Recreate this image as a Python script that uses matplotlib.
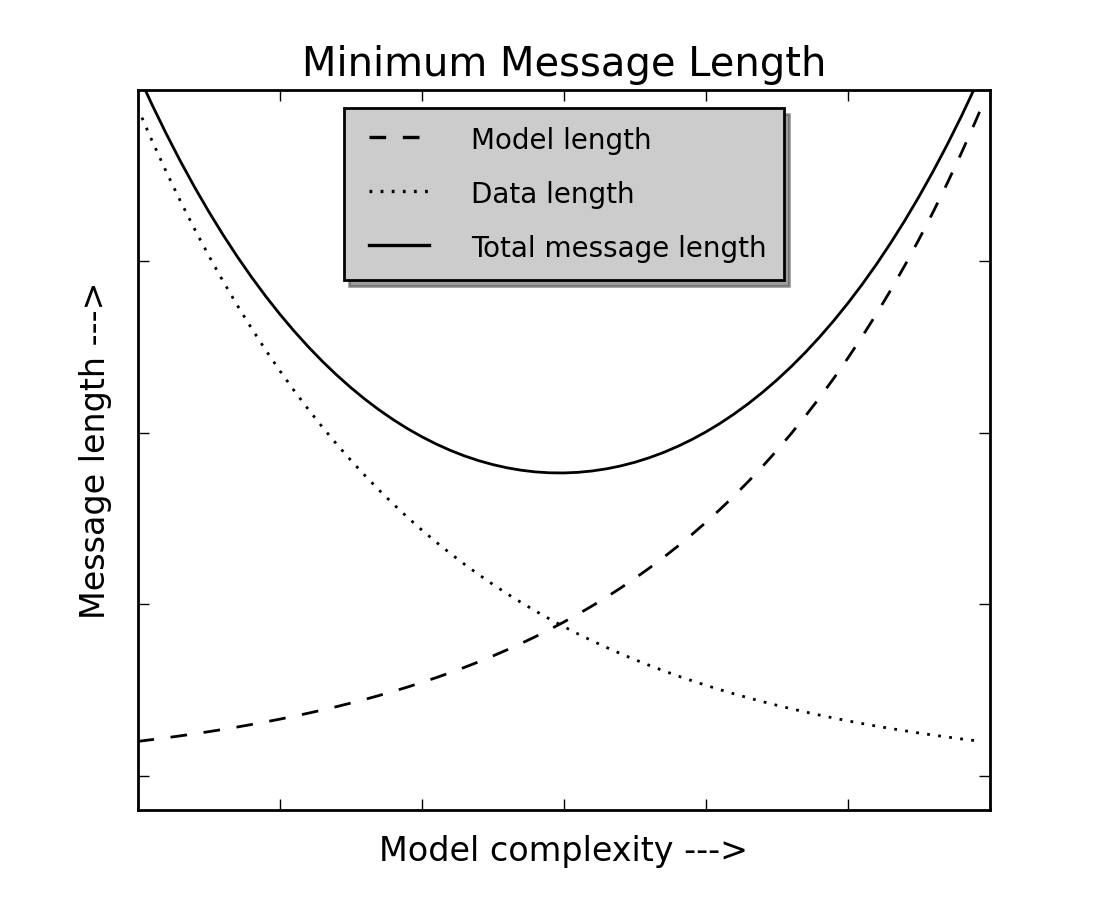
import matplotlib

matplotlib.use("Agg")
import matplotlib.pyplot as plt

# model complexity (arbitrary units) and message lengths
complexity = [0.00, 0.05, 0.10, 0.15, 0.20, 0.25, 0.30, 0.35, 0.40, 0.45,
              0.50, 0.55, 0.60, 0.65, 0.70, 0.75, 0.80, 0.85, 0.90, 0.95,
              1.00, 1.05, 1.10, 1.15, 1.20, 1.25, 1.30, 1.35, 1.40, 1.45,
              1.50, 1.55, 1.60, 1.65, 1.70, 1.75, 1.80, 1.85, 1.90, 1.95,
              2.00, 2.05, 2.10, 2.15, 2.20, 2.25, 2.30, 2.35, 2.40, 2.45,
              2.50, 2.55, 2.60, 2.65, 2.70, 2.75, 2.80, 2.85, 2.90, 2.95, 2.97]
model_len = [0.2000, 0.2103, 0.2210, 0.2324, 0.2443, 0.2568, 0.2700, 0.2838, 0.2984, 0.3137,
             0.3297, 0.3467, 0.3644, 0.3831, 0.4028, 0.4234, 0.4451, 0.4679, 0.4919, 0.5171,
             0.5437, 0.5715, 0.6008, 0.6316, 0.6640, 0.6981, 0.7339, 0.7715, 0.8110, 0.8526,
             0.8963, 0.9423, 0.9906, 1.0414, 1.0948, 1.1509, 1.2099, 1.2720, 1.3372, 1.4057,
             1.4778, 1.5536, 1.6332, 1.7170, 1.8050, 1.8975, 1.9948, 2.0971, 2.2046, 2.3177,
             2.4365, 2.5614, 2.6927, 2.8308, 2.9759, 3.1285, 3.2889, 3.4576, 3.6348, 3.8212, 3.8984]
data_len = [3.8984, 3.7082, 3.5275, 3.3553, 3.1917, 3.0360, 2.8880, 2.7471, 2.6132, 2.4857,
            2.3645, 2.2491, 2.1395, 2.0351, 1.9359, 1.8415, 1.7517, 1.6662, 1.5850, 1.5077,
            1.4341, 1.3642, 1.2977, 1.2343, 1.1742, 1.1169, 1.0624, 1.0106, 0.9613, 0.9144,
            0.8698, 0.8274, 0.7871, 0.7487, 0.7122, 0.6774, 0.6444, 0.6129, 0.5830, 0.5547,
            0.5275, 0.5018, 0.4774, 0.4541, 0.4320, 0.4109, 0.3908, 0.3718, 0.3537, 0.3364,
            0.3200, 0.3044, 0.2895, 0.2755, 0.2620, 0.2492, 0.2371, 0.2255, 0.2145, 0.2040, 0.2000]
total_len = [4.0984, 3.9185, 3.7485, 3.5877, 3.4360, 3.2928, 3.1580, 3.0309, 2.9116, 2.7994,
             2.6942, 2.5958, 2.5039, 2.4182, 2.3387, 2.2649, 2.1968, 2.1341, 2.0769, 2.0248,
             1.9778, 1.9357, 1.8985, 1.8659, 1.8382, 1.8150, 1.7963, 1.7821, 1.7723, 1.7670,
             1.7661, 1.7697, 1.7777, 1.7901, 1.8070, 1.8283, 1.8543, 1.8849, 1.9202, 1.9604,
             2.0053, 2.0554, 2.1106, 2.1711, 2.2370, 2.3084, 2.3856, 2.4689, 2.5583, 2.6541,
             2.7565, 2.8658, 2.9822, 3.1063, 3.2379, 3.3777, 3.5260, 3.6831, 3.8493, 4.0252, 4.0984]

plt.style.use("classic")

fig = plt.figure(figsize=(5.5, 4.5), dpi=200)
ax = fig.add_subplot(111)

ax.plot(complexity, model_len, "k--", lw=1.0, label="Model length")
ax.plot(complexity, data_len, "k:", lw=1.0, label="Data length")
ax.plot(complexity, total_len, "k-", lw=1.0, label="Total message length")

ax.set_xlim(0, 3)
ax.set_ylim(-0.2, 4)
ax.set_xticks([0, 0.5, 1.0, 1.5, 2.0, 2.5, 3.0])
ax.set_yticks([0, 1, 2, 3, 4])
ax.set_xticklabels([])
ax.set_yticklabels([])

ax.set_title("Minimum Message Length", fontsize=14.4)
ax.set_xlabel("Model complexity --->", fontsize=12)
ax.set_ylabel("Message length --->", fontsize=12)

leg = ax.legend(loc="upper center", shadow=True, fontsize=10,
                handlelength=2.76, handletextpad=1.2, handleheight=1.27,
                labelspacing=0.85, borderpad=0.62, borderaxespad=0.65)
leg.get_frame().set_facecolor("0.8")
for line in leg.get_lines():
    line.set_linewidth(1.2)

fig.savefig("out.png", dpi=200)
